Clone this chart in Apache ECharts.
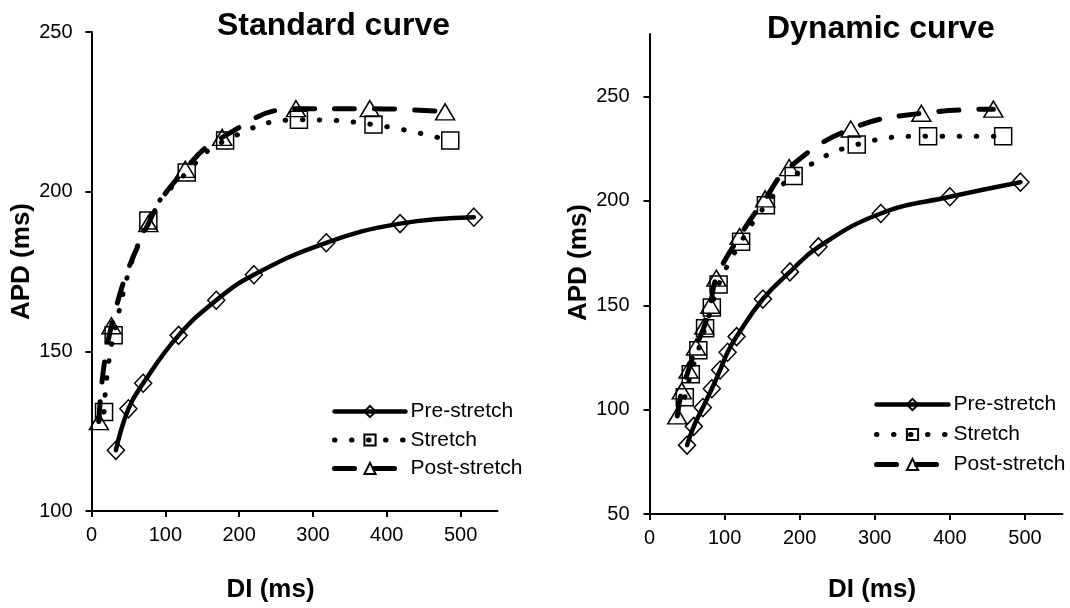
<!DOCTYPE html>
<html><head><meta charset="utf-8">
<script src="https://cdn.jsdelivr.net/npm/echarts@6/dist/echarts.min.js"></script>
<style>html,body{margin:0;padding:0;background:#fff}#c{width:1070px;height:608px}</style>
</head><body><div id="c"></div>
<script>
const FONT = "'Liberation Sans', Arial, Helvetica, sans-serif";
const seriesNames = ['Pre-stretch', 'Stretch', 'Post-stretch'];
const titles = ['Standard curve', 'Dynamic curve'];
const axisNameX = 'DI (ms)';
const axisNameY = 'APD (ms)';
const xTicks = [0, 100, 200, 300, 400, 500];
const yTicksStd = [100, 150, 200, 250];
const yTicksDyn = [50, 100, 150, 200, 250];

// Standard curve
const stdPreDI   = [33, 50, 70, 118, 169, 220, 318, 418, 518];
const stdPreAPD  = [119, 132, 140, 155, 166, 174, 184, 190, 192];
const stdStrDI   = [17, 30, 77, 129, 181, 281, 382, 486];
const stdStrAPD  = [131, 155, 191, 206, 216, 222.5, 221, 216];
const stdPostDI  = [10, 27, 77, 127, 177, 277, 377, 479];
const stdPostAPD = [128, 158, 190, 207, 217, 226, 226, 225];

// Dynamic curve
const dynPreDI   = [50, 59, 71, 83, 94, 104, 116, 151, 187, 225, 308, 400, 494];
const dynPreAPD  = [83, 92, 101, 110, 119, 127.5, 135, 153, 166, 178, 194, 202, 209];
const dynStrDI   = [47, 55, 65, 74, 83, 92, 122, 155, 192, 276, 371, 471];
const dynStrAPD  = [106, 117, 128.5, 139, 149, 160, 180.5, 198, 212, 227, 231, 231];
const dynPostDI  = [37, 43, 52, 62, 73, 81, 89, 120, 154, 186, 268, 362, 458];
const dynPostAPD = [97, 109, 119, 130, 140, 150, 163, 183, 201, 216, 234.5, 242, 244];

const zip = (a, b) => a.map((v, i) => [v, b[i]]);

const styles = [
  { symbol: 'diamond', symbolSize: [17, 18], lineStyle: { color: '#000', width: 4.5, type: 'solid', cap: 'round' } },
  { symbol: 'rect', symbolSize: 17, lineStyle: { color: '#000', width: 5, type: [0.5, 16.5], cap: 'round' } },
  { symbol: 'triangle', symbolSize: [19, 16], lineStyle: { color: '#000', width: 5, type: [20, 20], cap: 'round' } }
];

function mkSeries(idx, gi, di, apd) {
  const s = styles[idx];
  return {
    name: seriesNames[idx], type: 'line', xAxisIndex: gi, yAxisIndex: gi,
    data: zip(di, apd), smooth: 0.45, symbol: s.symbol, symbolSize: s.symbolSize,
    showAllSymbol: true, lineStyle: s.lineStyle,
    itemStyle: { color: 'rgba(0,0,0,0)', borderColor: '#000', borderWidth: 1.5 },
    emphasis: { disabled: true }, animation: false
  };
}

function mkX(gi, gap, pad) {
  return {
    gridIndex: gi, type: 'value', min: 0, max: 550, interval: 100,
    axisLine: { show: true, onZero: false, lineStyle: { color: '#000', width: 2 } },
    axisTick: { show: true, length: 6, lineStyle: { color: '#000', width: 2 }, customValues: xTicks },
    axisLabel: { customValues: xTicks, fontSize: 20, color: '#000', margin: 14, fontFamily: FONT },
    splitLine: { show: false },
    name: axisNameX, nameLocation: 'middle', nameGap: gap,
    nameTextStyle: { fontSize: 26, fontWeight: 'bold', color: '#000', fontFamily: FONT, padding: pad }
  };
}
function mkY(gi, min, max, ticks, margin, gap, pad) {
  return {
    gridIndex: gi, type: 'value', min: min, max: max, interval: 50,
    axisLine: { show: true, onZero: false, lineStyle: { color: '#000', width: 2 } },
    axisTick: { show: true, length: 6, lineStyle: { color: '#000', width: 2 }, customValues: ticks },
    axisLabel: { customValues: ticks, fontSize: 20, color: '#000', margin: margin, fontFamily: FONT },
    splitLine: { show: false },
    name: axisNameY, nameLocation: 'middle', nameGap: gap,
    nameTextStyle: { fontSize: 26, fontWeight: 'bold', color: '#000', fontFamily: FONT, padding: pad }
  };
}

const legendData = seriesNames.map((n, i) => ({
  name: n,
  lineStyle: { color: '#000', width: styles[i].lineStyle.width, type: styles[i].lineStyle.type, cap: 'round' }
}));

const legendBase = {
  data: legendData, orient: 'vertical', itemHeight: 14, padding: 0,
  textStyle: { fontSize: 21, color: '#000', fontFamily: FONT }, selectedMode: false
};

const option = {
  backgroundColor: '#fff',
  animation: false,
  title: [
    { text: titles[0], left: 217, top: 10, padding: 0, textStyle: { fontSize: 32, fontWeight: 'bold', color: '#000', fontFamily: FONT } },
    { text: titles[1], left: 767, top: 13, padding: 0, textStyle: { fontSize: 32, fontWeight: 'bold', color: '#000', fontFamily: FONT } }
  ],
  grid: [
    { left: 91.5, right: 572.5, top: 32, bottom: 95.3 },
    { left: 649.5, right: 7.5, top: 34, bottom: 93 }
  ],
  xAxis: [mkX(0, 66, [0, 48, 0, 0]), mkX(1, 63, [0, 0, 0, 32])],
  yAxis: [mkY(0, 100, 250, yTicksStd, 19, 53, [0, 0, 0, 20]), mkY(1, 50, 280, yTicksDyn, 20, 54, [0, 0, 0, 23])],
  legend: [
    Object.assign({}, legendBase, { left: 332, top: 401, itemWidth: 71, itemGap: 7.5 }),
    Object.assign({}, legendBase, { left: 874, top: 394, itemWidth: 72, itemGap: 9 })
  ],
  series: [
    mkSeries(0, 0, stdPreDI, stdPreAPD),
    mkSeries(1, 0, stdStrDI, stdStrAPD),
    mkSeries(2, 0, stdPostDI, stdPostAPD),
    mkSeries(0, 1, dynPreDI, dynPreAPD),
    mkSeries(1, 1, dynStrDI, dynStrAPD),
    mkSeries(2, 1, dynPostDI, dynPostAPD)
  ]
};
const chart = echarts.init(document.getElementById('c'), null, { renderer: 'canvas' });
chart.setOption(option);
</script></body></html>
